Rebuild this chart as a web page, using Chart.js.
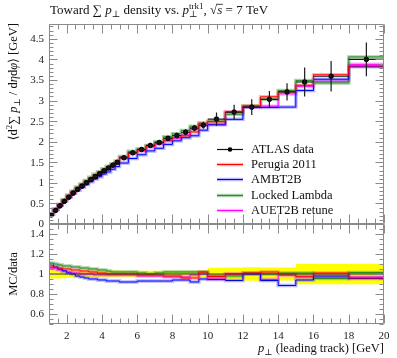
<!DOCTYPE html>
<html>
<head>
<meta charset="utf-8">
<script src="https://cdn.jsdelivr.net/npm/chart.js@4.4.0/dist/chart.umd.min.js"></script>
<style>
  html, body { margin: 0; padding: 0; background: #fff; }
  #wrap { position: relative; width: 397px; height: 358px; }
  #wrap canvas { position: absolute; left: 0; top: 0; }
</style>
</head>
<body>
<div id="wrap">
  <canvas id="main" width="397" height="358"></canvas>
  <canvas id="ratio" width="397" height="358"></canvas>
</div>
<script>

// bin edges of p_T(leading track) [GeV]
var EDGES = [1, 1.25, 1.5, 1.75, 2, 2.25, 2.5, 2.75, 3, 3.25, 3.5, 3.75, 4, 4.25, 4.5, 4.75, 5,
    5.5, 6, 6.5, 7, 7.5, 8, 8.5, 9, 9.5, 10, 11, 12, 13, 14, 15, 16, 18, 20];

var ATLAS = [0.22, 0.33, 0.44, 0.55, 0.65, 0.75, 0.84, 0.92, 1.00, 1.08, 1.15, 1.22, 1.29, 1.36, 1.43, 1.50,
    1.61, 1.73, 1.81, 1.91, 1.98, 2.08, 2.15, 2.23, 2.33, 2.40,
    2.55, 2.72, 2.84, 3.03, 3.21, 3.45, 3.59, 4.00];
var ATLAS_ERR = [0.010, 0.015, 0.020, 0.024, 0.024, 0.026, 0.029, 0.032, 0.035, 0.038, 0.040, 0.043, 0.045, 0.048, 0.050, 0.052,
    0.052, 0.056, 0.058, 0.061, 0.063, 0.066, 0.068, 0.071, 0.074, 0.085,
    0.16, 0.18, 0.19, 0.20, 0.21, 0.35, 0.37, 0.41];

var PERUGIA = [0.235, 0.353, 0.466, 0.578, 0.683, 0.780, 0.874, 0.948, 1.030, 1.102, 1.173, 1.232, 1.303, 1.360, 1.430, 1.500,
    1.610, 1.730, 1.792, 1.891, 1.960, 2.038, 2.107, 2.141, 2.237, 2.448,
    2.486, 2.720, 2.868, 3.091, 3.210, 3.371, 3.626, 3.840];
var AMBT2B = [0.240, 0.353, 0.462, 0.567, 0.657, 0.750, 0.823, 0.892, 0.960, 1.026, 1.093, 1.147, 1.213, 1.265, 1.330, 1.395,
    1.481, 1.592, 1.683, 1.776, 1.841, 1.934, 2.021, 2.096, 2.144, 2.280,
    2.410, 2.543, 2.840, 2.833, 2.841, 3.243, 3.518, 3.820];
var LOCKED = [0.244, 0.363, 0.480, 0.594, 0.702, 0.803, 0.899, 0.975, 1.060, 1.134, 1.208, 1.269, 1.342, 1.401, 1.459, 1.530,
    1.642, 1.765, 1.828, 1.910, 2.000, 2.122, 2.193, 2.275, 2.377, 2.448,
    2.499, 2.666, 2.868, 3.030, 3.242, 3.485, 3.428, 4.060];
var AUET2B = [0.233, 0.347, 0.458, 0.567, 0.663, 0.758, 0.848, 0.920, 1.000, 1.080, 1.139, 1.208, 1.277, 1.346, 1.416, 1.485,
    1.594, 1.713, 1.774, 1.872, 1.940, 2.018, 2.086, 2.163, 2.307, 2.400,
    2.423, 2.720, 2.840, 2.863, 3.162, 3.347, 3.468, 3.880];

var MAIN_Y_LABELS = ['0', '0.5', '1', '1.5', '2', '2.5', '3', '3.5', '4', '4.5'];
var RATIO_Y_LABELS = ['0.6', '0.8', '1', '1.2', '1.4'];
var X_LABELS = ['2', '4', '6', '8', '10', '12', '14', '16', '18', '20'];

var MC = [
    {label: 'Perugia 2011', values: PERUGIA, line: '#ff0000', band: 'rgba(255,90,90,0.45)'},
    {label: 'AMBT2B', values: AMBT2B, line: '#0000ff', band: 'rgba(90,90,255,0.45)'},
    {label: 'Locked Lambda', values: LOCKED, line: '#2a8a2a', band: 'rgba(80,170,80,0.5)'},
    {label: 'AUET2B retune', values: AUET2B, line: '#ff00ff', band: 'rgba(255,90,255,0.45)'}
];

var SERIF = '"Liberation Serif", "DejaVu Serif", serif';
var FRAME = '#8a8a8a';

function stepPoints(values) {
    var pts = values.map(function (v, i) { return {x: EDGES[i], y: v}; });
    pts.push({x: EDGES[EDGES.length - 1], y: values[values.length - 1]});
    return pts;
}

function centers() {
    return ATLAS.map(function (v, i) { return {x: (EDGES[i] + EDGES[i + 1]) / 2, y: v}; });
}

// rich text: parts with italic / sub / sup
function drawRich(ctx, parts, x, y, size, draw) {
    parts.forEach(function (p) {
        var s = size * (p.scale || 1);
        ctx.font = (p.italic ? 'italic ' : '') + s + 'px ' + SERIF;
        var w = ctx.measureText(p.t).width;
        if (draw) {
            ctx.fillText(p.t, x, y + (p.dy || 0) * size);
            if (p.over) {
                ctx.fillRect(x - 0.5, y - 0.78 * size, w + 1, 0.8);
            }
        }
        if (p.sup) {
            ctx.font = (0.7 * size) + 'px ' + SERIF;
            var ws = ctx.measureText(p.sup).width;
            if (draw) ctx.fillText(p.sup, x, y + p.supDy * size);
            w = Math.max(w, ws);
        }
        x += w;
    });
    return x;
}

function richWidth(ctx, parts, size) {
    return drawRich(ctx, parts, 0, 0, size, false);
}

function drawFrame(chart, o) {
    var ctx = chart.ctx, a = chart.chartArea, xs = chart.scales.x, ys = chart.scales.y;
    ctx.save();
    ctx.strokeStyle = FRAME;
    ctx.lineWidth = 1;
    ctx.beginPath();
    var l = Math.round(a.left) + 0.5, r = Math.round(a.right) - 0.5;
    var t = Math.round(a.top) + 0.5, b = Math.round(a.bottom) - 0.5;
    ctx.rect(l, t, r - l, b - t);
    var k, px, len;
    for (k = 0; k <= 38; k++) {
        px = Math.round(xs.getPixelForValue(1 + k * 0.5)) + 0.5;
        len = ((1 + k * 0.5) % 2 === 0) ? 9 : 5;
        ctx.moveTo(px, t); ctx.lineTo(px, t + len);
        ctx.moveTo(px, b); ctx.lineTo(px, b - len);
    }
    for (k = 0; k <= o.yCount; k++) {
        var v = o.yMin + k * o.yMinor;
        var py = Math.round(ys.getPixelForValue(v)) + 0.5;
        len = ((k - o.majorOffset) % o.every === 0 && k >= o.majorOffset) ? 8 : 4;
        ctx.moveTo(l, py); ctx.lineTo(l + len, py);
        ctx.moveTo(r, py); ctx.lineTo(r - len, py);
    }
    ctx.stroke();

    ctx.fillStyle = '#222';
    ctx.font = '11px ' + SERIF;
    ctx.textAlign = 'right';
    ctx.textBaseline = 'middle';
    o.yLabels.forEach(function (lab) {
        ctx.fillText(lab, 44, ys.getPixelForValue(parseFloat(lab)) + 0.5);
    });
    ctx.restore();
}

var mainDecor = {
    id: 'mainDecor',
    afterDatasetsDraw: function (chart) {
        var ctx = chart.ctx, xs = chart.scales.x, ys = chart.scales.y;
        ctx.save();
        ctx.strokeStyle = '#1a1a1a';
        ctx.lineWidth = 1.2;
        ctx.beginPath();
        ATLAS.forEach(function (v, i) {
            var x1 = xs.getPixelForValue(EDGES[i]), x2 = xs.getPixelForValue(EDGES[i + 1]);
            var xc = (x1 + x2) / 2, y = ys.getPixelForValue(v);
            ctx.moveTo(x1, y); ctx.lineTo(x2, y);
            ctx.moveTo(xc, ys.getPixelForValue(v - ATLAS_ERR[i]));
            ctx.lineTo(xc, ys.getPixelForValue(v + ATLAS_ERR[i]));
        });
        ctx.stroke();
        ctx.restore();
    },
    afterDraw: function (chart) {
        var ctx = chart.ctx;
        drawFrame(chart, {yMin: 0, yMinor: 0.1, yCount: 48, every: 5, majorOffset: 0, yLabels: MAIN_Y_LABELS});

        ctx.save();
        ctx.fillStyle = '#111';
        ctx.textBaseline = 'alphabetic';
        ctx.textAlign = 'left';
        // title
        drawRich(ctx, [
            {t: 'Toward '}, {t: '\u2211 '}, {t: 'p', italic: true},
            {t: '\u22a5', scale: 0.7, dy: 0.25}, {t: ' density vs. '}, {t: 'p', italic: true},
            {t: '\u22a5', scale: 0.7, dy: 0.25, sup: 'trk1', supDy: -0.42}, {t: ', '},
            {t: '\u221a'}, {t: 's', italic: true, over: true}, {t: ' = 7 TeV'}
        ], 50, 14, 13, true);

        // y title, rotated, ending at the top of the frame
        var yParts = [
            {t: '\u27e8d'}, {t: '2', scale: 0.7, dy: -0.4}, {t: '\u2211 '}, {t: 'p', italic: true},
            {t: '\u22a5', scale: 0.7, dy: 0.25}, {t: ' / d'}, {t: '\u03b7', italic: true}, {t: 'd'},
            {t: '\u03c6', italic: true}, {t: '\u27e9 [GeV]'}
        ];
        var w = richWidth(ctx, yParts, 12.5);
        ctx.translate(17, 23);
        ctx.rotate(-Math.PI / 2);
        drawRich(ctx, yParts, -w, 0, 12.5, true);
        ctx.restore();

        // legend
        ctx.save();
        var entries = [{label: 'ATLAS data'}].concat(MC);
        ctx.font = '12.5px ' + SERIF;
        ctx.textBaseline = 'middle';
        entries.forEach(function (e, i) {
            var y = Math.round(149 + i * 15.2) + 0.5;
            if (e.line) {
                ctx.strokeStyle = e.band; ctx.lineWidth = 3.5;
                ctx.beginPath(); ctx.moveTo(217, y); ctx.lineTo(243, y); ctx.stroke();
                ctx.strokeStyle = e.line; ctx.lineWidth = 1;
                ctx.beginPath(); ctx.moveTo(217, y); ctx.lineTo(243, y); ctx.stroke();
            } else {
                ctx.strokeStyle = '#111'; ctx.lineWidth = 1.2;
                ctx.beginPath(); ctx.moveTo(217, y); ctx.lineTo(243, y); ctx.stroke();
                ctx.fillStyle = '#000';
                ctx.beginPath(); ctx.arc(230, y, 2.3, 0, Math.PI * 2); ctx.fill();
            }
            ctx.fillStyle = '#111';
            ctx.fillText(e.label, 251, y + 0.5);
        });
        ctx.restore();
    }
};

var ratioDecor = {
    id: 'ratioDecor',
    afterDraw: function (chart) {
        var ctx = chart.ctx, xs = chart.scales.x;
        drawFrame(chart, {yMin: 0.5, yMinor: 0.05, yCount: 20, every: 4, majorOffset: 2, yLabels: RATIO_Y_LABELS});
        ctx.save();
        ctx.fillStyle = '#222';
        ctx.font = '11px ' + SERIF;
        ctx.textAlign = 'center';
        ctx.textBaseline = 'alphabetic';
        X_LABELS.forEach(function (lab) {
            ctx.fillText(lab, xs.getPixelForValue(parseFloat(lab)), 339);
        });
        ctx.textAlign = 'left';
        ctx.fillStyle = '#111';
        var xParts = [{t: 'p', italic: true}, {t: '\u22a5', scale: 0.7, dy: 0.25}, {t: ' (leading track) [GeV]'}];
        var w = richWidth(ctx, xParts, 12.5);
        drawRich(ctx, xParts, 384 - w, 352, 12.5, true);

        ctx.font = '12.5px ' + SERIF;
        ctx.translate(17, 274);
        ctx.rotate(-Math.PI / 2);
        ctx.textAlign = 'center';
        ctx.fillText('MC/data', 0, 0);
        ctx.restore();
    }
};

function mcDatasets(valuesOf) {
    var out = [];
    MC.forEach(function (m) {
        var vals = valuesOf(m);
        out.push({type: 'line', data: stepPoints(vals), stepped: 'before', borderColor: m.band,
            borderWidth: 3.5, pointRadius: 0, fill: false, order: 3});
        out.push({type: 'line', data: stepPoints(vals), stepped: 'before', borderColor: m.line,
            borderWidth: 1, pointRadius: 0, fill: false, order: 2});
    });
    return out;
}

var common = {
    responsive: false,
    animation: false,
    events: [],
    plugins: {legend: {display: false}, tooltip: {enabled: false}}
};

new Chart(document.getElementById('main'), {
    type: 'line',
    data: {
        datasets: [{
            type: 'scatter', data: centers(), pointRadius: 2.3, pointBackgroundColor: '#000',
            pointBorderColor: '#000', showLine: false, order: 0
        }].concat(mcDatasets(function (m) { return m.values; }))
    },
    options: Object.assign({}, common, {
        layout: {padding: {left: 49, right: 13, top: 24, bottom: 134}},
        scales: {
            x: {type: 'linear', min: 1, max: 20, display: false},
            y: {type: 'linear', min: 0, max: 4.86, display: false}
        }
    }),
    plugins: [mainDecor]
});

var bandUp = ATLAS.map(function (v, i) { return 1 + ATLAS_ERR[i] / v; });
var bandDown = ATLAS.map(function (v, i) { return 1 - ATLAS_ERR[i] / v; });
var ones = ATLAS.map(function () { return 1; });

new Chart(document.getElementById('ratio'), {
    type: 'line',
    data: {
        datasets: [
            {data: stepPoints(ones), stepped: 'before', borderColor: '#333', borderWidth: 1,
                pointRadius: 0, fill: false, order: 1},
            {data: stepPoints(bandUp), stepped: 'before', borderWidth: 0, borderColor: 'rgba(0,0,0,0)',
                pointRadius: 0, fill: '+1', backgroundColor: '#ffff00', order: 5},
            {data: stepPoints(bandDown), stepped: 'before', borderWidth: 0, borderColor: 'rgba(0,0,0,0)',
                pointRadius: 0, fill: false, order: 5}
        ].concat(mcDatasets(function (m) {
            return m.values.map(function (v, i) { return v / ATLAS[i]; });
        }))
    },
    options: Object.assign({}, common, {
        layout: {padding: {left: 49, right: 13, top: 224, bottom: 34}},
        scales: {
            x: {type: 'linear', min: 1, max: 20, display: false},
            y: {type: 'linear', min: 0.5, max: 1.5, display: false}
        }
    }),
    plugins: [ratioDecor]
});
</script>
</body>
</html>
